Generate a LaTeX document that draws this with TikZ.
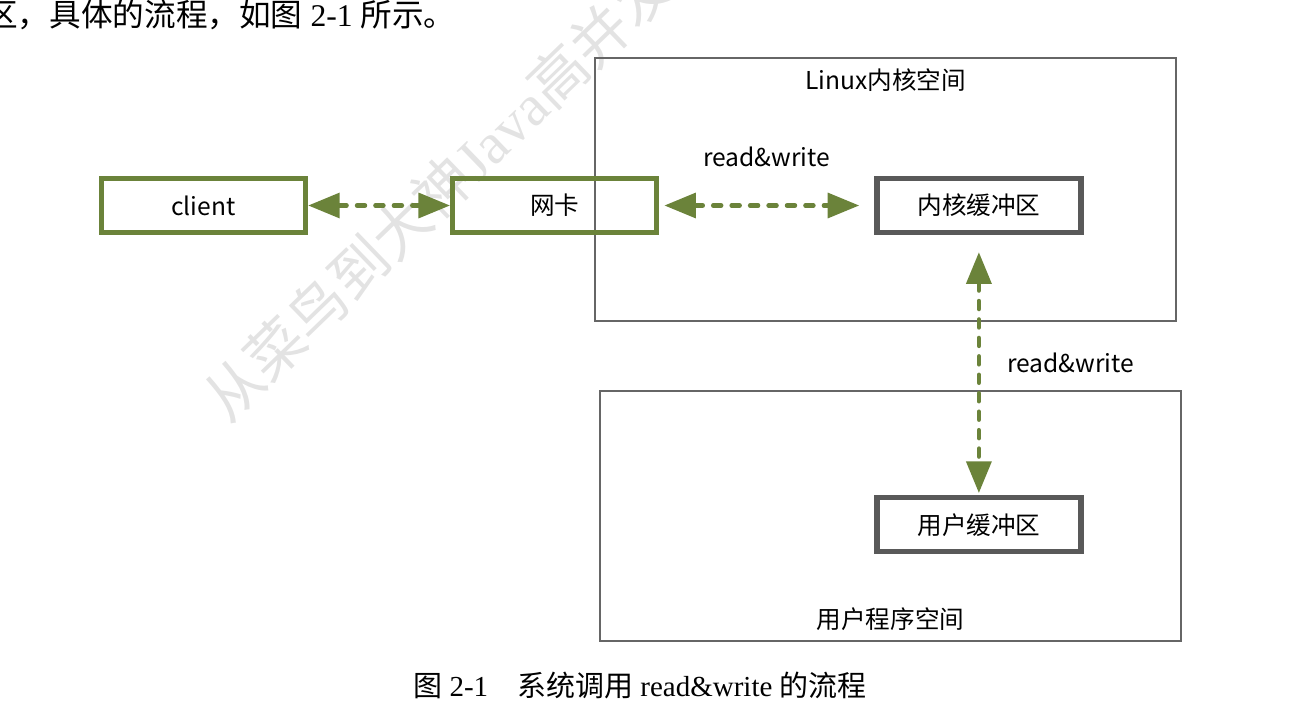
\documentclass[tikz,border=0pt]{standalone}
\usepackage{fontspec}
\setmainfont{Liberation Serif}
\newfontfamily\cjk{Noto Sans CJK SC}
\usetikzlibrary{positioning, arrows.meta}
\definecolor{linegreen}{HTML}{6B833A}
\definecolor{boxgray}{HTML}{595959}
\definecolor{framegray}{HTML}{666666}
\begin{document}
\begin{tikzpicture}[
  x=0.02cm, y=-0.02cm,    % 1単位 = 画像の1px
  font=\cjk\fontsize{14}{16}\selectfont,
  greenbox/.style={draw=linegreen, line width=3pt, minimum width=4.08cm, minimum height=1.08cm, inner sep=0pt},
  graybox/.style={greenbox, draw=boxgray},
  space/.style={draw=framegray, line width=1.1pt, inner sep=0pt, minimum width=11.62cm},
  link/.style={draw=linegreen, line width=2.6pt, line cap=round, dash pattern=on 4.5pt off 6pt,
    {Triangle[length=18pt, width=14pt]}-{Triangle[length=18pt, width=14pt]}},
  note/.style={inner sep=0pt},
  body/.style={inner sep=0pt}
  ]
  \useasboundingbox (0,0) rectangle (1316,727);

  % --- 透かし ---
  \node [note, anchor=base west, rotate=44, text=black!11, font=\cjk\fontsize{33}{33}\selectfont]
    (mark) at (228,425) {从菜鸟到大神{\rmfamily Java}高并发};

  % --- 本文 ---
  \node [body, anchor=west, font=\fontsize{18}{20}\selectfont] (intro) at (-14,15)
    {{\cjk 区，具体的流程，如图} 2-1 {\cjk 所示。}};

  % --- 空间 ---
  \node [space, minimum height=5.26cm] (kernel) at (885.5,189.5) {};
  \node [note, below=0.22cm of kernel.north] (kernellabel) {Linux内核空间};
  \node [space, minimum height=5.0cm] (user) at (890.5,516) {};
  \node [note, above=0.22cm of user.south] (userlabel) {用户程序空间};

  % --- 箱 ---
  \node [greenbox] (client) at (203.5,205.5) {client};
  \node [greenbox, right=2.84cm of client] (nic) {网卡};
  \node [graybox, right=4.3cm of nic] (kbuf) {内核缓冲区};
  \node [graybox, below=5.2cm of kbuf] (ubuf) {用户缓冲区};

  % --- 矢印 ---
  \draw [link] (client.east) -- (nic.west);
  \draw [link, shorten <=0.1cm, shorten >=0.3cm] (nic.east) -- (kbuf.west)
    node[midway, above=0.62cm] {read\&write};
  \draw [link, shorten <=0.34cm, shorten >=0.04cm] (kbuf.south) -- (ubuf.north)
    node[pos=0.49, right=0.4cm] {read\&write};

  % --- 図の題 ---
  \node [body, font=\fontsize{16.5}{18}\selectfont] (caption) at (640,685)
    {{\cjk 图} 2-1\quad{\cjk 系统调用} read\&write {\cjk 的流程}};

\end{tikzpicture}
\end{document}
